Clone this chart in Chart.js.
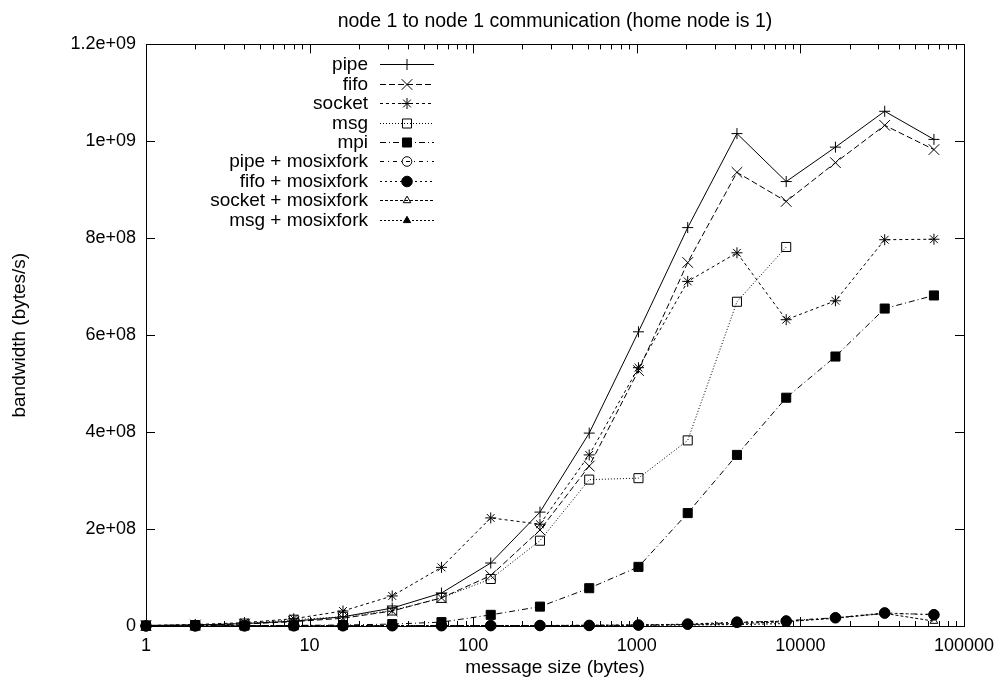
<!DOCTYPE html>
<html>
<head>
<meta charset="utf-8">
<script src="https://cdn.jsdelivr.net/npm/chart.js@4/dist/chart.umd.min.js"></script>
<style>
  html, body { margin: 0; padding: 0; background: #fff; }
  #wrap { width: 1003px; height: 690px; }
</style>
</head>
<body>
<div id="wrap"><canvas id="bw" width="1003" height="690"></canvas></div>
<script>
// message sizes in bytes
const sizes = [1, 2, 4, 8, 16, 32, 64, 128, 256, 512, 1024, 2048, 4096, 8192, 16384, 32768, 65536];

// bandwidth in bytes/s
const pipe   = [1e6, 2e6, 5e6, 10e6, 19e6, 37e6, 68e6, 130e6, 235e6, 398e6, 607e6, 822e6, 1016e6, 917e6, 988e6, 1062e6, 1004e6];
const fifo   = [1e6, 2e6, 4e6, 9e6, 16e6, 31e6, 58e6, 104e6, 198e6, 330e6, 527e6, 750e6, 936e6, 876e6, 956e6, 1033e6, 983e6];
const socket = [1e6, 3e6, 7e6, 15e6, 31e6, 62e6, 121e6, 223e6, 210e6, 353e6, 533e6, 711e6, 770e6, 632e6, 671e6, 797e6, 798e6];
const msg    = [1e6, 2e6, 5e6, 13e6, 19e6, 32e6, 58e6, 97e6, 176e6, 302e6, 305e6, 383e6, 669e6, 782e6];
const mpi    = [0.5e6, 0.6e6, 0.8e6, 1.2e6, 2e6, 4e6, 8e6, 23e6, 40e6, 78e6, 122e6, 233e6, 353e6, 471e6, 556e6, 655e6, 682e6];
const pipeMosix   = [0.1e6, 0.2e6, 0.3e6, 0.5e6, 0.6e6, 0.7e6, 0.8e6, 0.9e6, 1e6, 1.2e6, 1.6e6, 3e6, 7e6, 11e6, 17e6, 26e6, 24e6];
const fifoMosix   = [0.1e6, 0.2e6, 0.3e6, 0.4e6, 0.5e6, 0.6e6, 0.7e6, 0.8e6, 1e6, 1.2e6, 2e6, 4e6, 8e6, 10e6, 17e6, 27e6, 23e6];
const socketMosix = [0.1e6, 0.2e6, 0.3e6, 0.4e6, 0.5e6, 0.6e6, 0.7e6, 0.8e6, 1e6, 1.5e6, 2e6, 3e6, 5e6, 9e6, 16e6, 26e6, 10e6];
const msgMosix    = [0.1e6, 0.2e6, 0.3e6, 0.4e6, 0.5e6, 0.6e6, 0.7e6, 0.8e6, 0.9e6, 1e6, 1.5e6, 2e6, 3e6, 5e6];

const xDecades = [1, 10, 100, 1000, 10000, 100000];
const yTicks = [0, 2e8, 4e8, 6e8, 8e8, 1e9, 1.2e9];

const OPEN = 'rgba(0,0,0,0)';
const series = [
  { label: 'pipe',               data: pipe,        style: 'cross',    r: 5.5, fill: '#000', dash: [] },
  { label: 'fifo',               data: fifo,        style: 'crossRot', r: 7.5, fill: '#000', dash: [6, 3] },
  { label: 'socket',             data: socket,      style: 'star',     r: 5.5, fill: '#000', dash: [3, 3] },
  { label: 'msg',                data: msg,         style: 'rect',     r: 6.4, fill: OPEN,   dash: [1, 2] },
  { label: 'mpi',                data: mpi,         style: 'rect',     r: 6.4, fill: '#000', dash: [6, 3, 1, 3] },
  { label: 'pipe + mosixfork',   data: pipeMosix,   style: 'circle',   r: 4.8, fill: OPEN,   dash: [4, 4, 1, 4] },
  { label: 'fifo + mosixfork',   data: fifoMosix,   style: 'circle',   r: 5.3, fill: '#000', dash: [2, 3] },
  { label: 'socket + mosixfork', data: socketMosix, style: 'triangle', r: 4.4, fill: OPEN,   dash: [3, 2] },
  { label: 'msg + mosixfork',    data: msgMosix,    style: 'triangle', r: 4.2, fill: '#000', dash: [2, 2] }
];

// gnuplot style exponent labels: 2e+08, 1.2e+09
function expLabel(v) {
  if (v === 0) return '0';
  const s = Number(v.toPrecision(6)).toExponential();
  const [m, e] = s.split('e');
  return m + 'e' + e[0] + e.slice(1).padStart(2, '0');
}

// frame, inward ticks (mirrored) and the key
const frame = {
  id: 'frame',
  afterDatasetsDraw(chart) {
    const { ctx, chartArea: a, scales: { x, y } } = chart;
    ctx.save();
    ctx.strokeStyle = '#000';
    ctx.lineWidth = 1;
    ctx.setLineDash([]);
    ctx.beginPath();
    xDecades.forEach((d, i) => {
      const px = Math.round(x.getPixelForValue(d)) + 0.5;
      ctx.moveTo(px, a.bottom); ctx.lineTo(px, a.bottom - 9);
      ctx.moveTo(px, a.top); ctx.lineTo(px, a.top + 9);
      if (i === xDecades.length - 1) return;
      for (let k = 2; k <= 9; k++) {
        const mx = Math.round(x.getPixelForValue(d * k)) + 0.5;
        ctx.moveTo(mx, a.bottom); ctx.lineTo(mx, a.bottom - 5);
        ctx.moveTo(mx, a.top); ctx.lineTo(mx, a.top + 5);
      }
    });
    yTicks.forEach(v => {
      const py = Math.round(y.getPixelForValue(v)) + 0.5;
      ctx.moveTo(a.left, py); ctx.lineTo(a.left + 9, py);
      ctx.moveTo(a.right, py); ctx.lineTo(a.right - 9, py);
    });
    ctx.stroke();
    ctx.strokeRect(Math.round(a.left) + 0.5, Math.round(a.top) + 0.5,
      Math.round(a.right - a.left), Math.round(a.bottom - a.top));

    // key
    const textRight = a.left + 222;
    const lineL = a.left + 234, lineR = a.left + 288;
    ctx.font = '19px "Liberation Sans"';
    ctx.textAlign = 'right';
    ctx.textBaseline = 'middle';
    chart.data.datasets.forEach((ds, i) => {
      const ky = Math.round(a.top + 20 + i * 19.4) + 0.5;
      ctx.fillStyle = '#000';
      ctx.fillText(ds.label, textRight, ky);
      ctx.setLineDash(ds.borderDash);
      ctx.beginPath();
      ctx.moveTo(lineL, ky);
      ctx.lineTo(lineR, ky);
      ctx.stroke();
      ctx.setLineDash([]);
      ctx.fillStyle = ds.pointBackgroundColor;
      Chart.helpers.drawPoint(ctx, {
        pointStyle: ds.pointStyle, radius: ds.pointRadius, rotation: 0, borderWidth: 1
      }, (lineL + lineR) / 2, ky);
    });
    ctx.restore();
  }
};

new Chart(document.getElementById('bw').getContext('2d'), {
  type: 'line',
  data: {
    datasets: series.map((s, i) => ({
      label: s.label,
      data: s.data.map((v, j) => ({ x: sizes[j], y: v })),
      order: series.length - i,   // later series are plotted on top
      clip: false,
      borderColor: '#000',
      borderWidth: 1,
      borderDash: s.dash,
      tension: 0,
      fill: false,
      pointStyle: s.style,
      pointRadius: s.r,
      pointBorderWidth: 1,
      pointBorderColor: '#000',
      pointBackgroundColor: s.fill
    }))
  },
  options: {
    responsive: false,
    animation: false,
    events: [],
    layout: { padding: { left: 0, right: 39, top: 0, bottom: 0 } },
    scales: {
      x: {
        type: 'logarithmic',
        min: 1,
        max: 100000,
        afterBuildTicks(scale) {
          scale.ticks = xDecades.map(v => ({ value: v, major: true }));
        },
        afterFit(scale) { scale.height = 64; },
        grid: { display: false, drawTicks: false },
        border: { display: false },
        ticks: {
          autoSkip: false,
          maxRotation: 0,
          padding: 9,
          color: '#000',
          font: { family: 'Liberation Sans', size: 18 },
          callback: v => String(v)
        },
        title: {
          display: true,
          text: 'message size (bytes)',
          color: '#000',
          font: { family: 'Liberation Sans', size: 19 },
          padding: { top: 0, bottom: 11 }
        }
      },
      y: {
        type: 'linear',
        min: 0,
        max: 1.2e9,
        afterBuildTicks(scale) {
          scale.ticks = yTicks.map(v => ({ value: v }));
        },
        afterFit(scale) { scale.width = 146; },
        grid: { display: false, drawTicks: false },
        border: { display: false },
        ticks: {
          padding: 10,
          color: '#000',
          font: { family: 'Liberation Sans', size: 18 },
          callback: v => expLabel(v)
        },
        title: {
          display: true,
          text: 'bandwidth (bytes/s)',
          color: '#000',
          font: { family: 'Liberation Sans', size: 19 },
          padding: { top: 8, bottom: 0 }
        }
      }
    },
    plugins: {
      legend: { display: false },
      tooltip: { enabled: false },
      title: {
        display: true,
        fullSize: false,
        text: 'node 1 to node 1 communication (home node is 1)',
        color: '#000',
        font: { family: 'Liberation Sans', size: 19.5, weight: 'normal' },
        padding: { top: 10, bottom: 11 }
      }
    }
  },
  plugins: [frame]
});
</script>
</body>
</html>
